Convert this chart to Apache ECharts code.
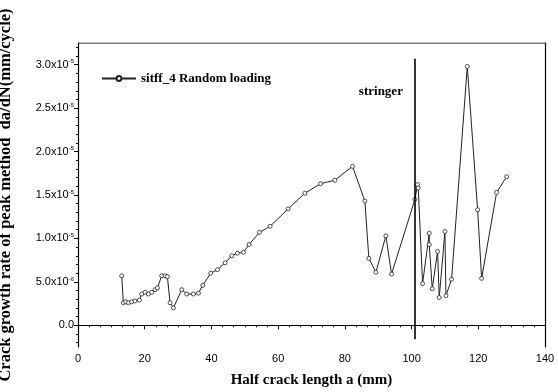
<!DOCTYPE html>
<html>
<head>
<meta charset="utf-8">
<script src="https://cdn.jsdelivr.net/npm/echarts@6/dist/echarts.min.js"></script>
<style>
  html, body { margin: 0; padding: 0; background: #fff; }
  #chart { width: 558px; height: 392px; }
</style>
</head>
<body>
<div id="chart"></div>
<script>
  // half crack length a (mm)
  const crackLength = [13.1, 13.6, 14.3, 15.1, 16.1, 17.1, 18.4, 19.1, 20.1, 21.1, 22.1, 23.1, 23.8,
    25.1, 26.1, 26.8, 27.6, 28.6, 31.1, 32.6, 34.6, 36.1, 37.4, 39.8, 41.8, 44.1, 46.1, 47.8, 49.6,
    51.3, 54.4, 57.6, 63.0, 68.0, 72.7, 77.0, 82.3, 86.0, 87.2, 89.3, 92.3, 94.0, 101.0, 101.8, 102.0,
    103.3, 105.3, 105.3, 106.2, 107.8, 108.3, 110.0, 110.3, 112.0, 116.7, 119.8, 121.0, 125.5, 128.5]
  // da/dN in units of 1e-5 mm/cycle
  const growthRate = [0.57, 0.26, 0.27, 0.26, 0.27, 0.28, 0.29, 0.36, 0.38, 0.36, 0.38, 0.41, 0.43,
    0.57, 0.57, 0.56, 0.26, 0.20, 0.41, 0.36, 0.36, 0.37, 0.46, 0.60, 0.64, 0.72, 0.80, 0.83, 0.84,
    0.93, 1.07, 1.14, 1.34, 1.52, 1.63, 1.67, 1.83, 1.43, 0.77, 0.61, 1.03, 0.59, 1.45, 1.62, 1.58,
    0.48, 1.06, 0.93, 0.42, 0.85, 0.32, 1.08, 0.34, 0.53, 2.98, 1.33, 0.54, 1.53, 1.71]
  const yTicks = [0, 0.5, 1.0, 1.5, 2.0, 2.5, 3.0]
  const yMinorTicks = [-0.2, -0.1, 0.1, 0.2, 0.3, 0.4, 0.6, 0.7, 0.8, 0.9, 1.1, 1.2, 1.3, 1.4,
    1.6, 1.7, 1.8, 1.9, 2.1, 2.2, 2.3, 2.4, 2.6, 2.7, 2.8, 2.9, 3.1, 3.2]
  const stringerX = 101
  const seriesName = 'sitff_4 Random loading'

  const serif = 'Liberation Serif'
  const sans = 'Liberation Sans'

  const chart = echarts.init(document.getElementById('chart'))

  function yLabel(v) {
    if (Math.abs(v) < 1e-9) return '0.0'
    if (v < 1) return '{m|' + (v * 10).toFixed(1) + 'x10}{s|-6}'
    return '{m|' + v.toFixed(1) + 'x10}{s|-5}'
  }

  chart.setOption({
    animation: false,
    backgroundColor: '#fff',
    grid: {left: 78, right: 13, top: 43, bottom: 45, outerBoundsMode: 'none'},
    legend: {
      left: 96,
      top: 67,
      itemWidth: 34,
      itemHeight: 6,
      itemGap: 4,
      textStyle: {fontFamily: serif, fontWeight: 'bold', fontSize: 13, color: '#000'},
      data: [seriesName]
    },
    xAxis: {
      type: 'value',
      min: 0,
      max: 140,
      interval: 20,
      name: 'Half crack length a (mm)',
      nameLocation: 'middle',
      nameGap: 26,
      nameTextStyle: {fontFamily: serif, fontWeight: 'bold', fontSize: 15, color: '#000'},
      axisLine: {lineStyle: {color: '#000', width: 1.2}},
      axisTick: {length: 4, lineStyle: {color: '#000'}},
      minorTick: {show: true, splitNumber: 6, length: 2, lineStyle: {color: '#000'}},
      axisLabel: {fontFamily: sans, fontSize: 11, color: '#000', margin: 6},
      splitLine: {show: false}
    },
    yAxis: [{
      type: 'value',
      min: -0.25,
      max: 3.25,
      name: 'Crack growth rate of peak method  da/dN(mm/cycle)',
      nameLocation: 'middle',
      nameGap: 64,
      nameTextStyle: {fontFamily: serif, fontWeight: 'bold', fontSize: 16.5, color: '#000'},
      axisLine: {show: true, lineStyle: {color: '#000', width: 1.2}},
      axisTick: {show: true, length: 4, customValues: yTicks, lineStyle: {color: '#000'}},
      axisLabel: {
        customValues: yTicks,
        formatter: yLabel,
        color: '#000',
        margin: 4,
        fontFamily: sans,
        fontSize: 11,
        rich: {
          m: {fontFamily: sans, fontSize: 11, color: '#000'},
          s: {fontFamily: sans, fontSize: 6, color: '#000', verticalAlign: 'top', padding: [0, 0, 6, 0]}
        }
      },
      splitLine: {show: false}
    }, {
      type: 'value',
      min: -0.25,
      max: 3.25,
      position: 'left',
      axisLine: {show: false},
      axisTick: {show: true, length: 2, customValues: yMinorTicks, lineStyle: {color: '#000'}},
      axisLabel: {show: false},
      splitLine: {show: false}
    }, {
      // right frame
      type: 'value',
      min: -0.25,
      max: 3.25,
      position: 'right',
      axisLine: {show: true, lineStyle: {color: '#000', width: 1.2}},
      axisTick: {show: false},
      axisLabel: {show: false},
      splitLine: {show: false}
    }],
    series: [{
      name: seriesName,
      type: 'line',
      data: crackLength.map((x, i) => [x, growthRate[i]]),
      symbol: 'circle',
      symbolSize: 4,
      showAllSymbol: true,
      lineStyle: {color: '#222', width: 1},
      itemStyle: {color: '#fff', borderColor: '#222', borderWidth: 0.8},
      markLine: {
        silent: true,
        symbol: 'none',
        label: {show: false},
        lineStyle: {color: '#000', width: 1.6, type: 'solid'},
        data: [[{coord: [stringerX, -0.16]}, {coord: [stringerX, 3.07]}]]
      },
      markPoint: {
        symbol: 'circle',
        symbolSize: 0,
        label: {
          show: true,
          formatter: 'stringer',
          fontFamily: serif,
          fontWeight: 'bold',
          fontSize: 13,
          color: '#000'
        },
        data: [{coord: [90.8, 2.69]}]
      }
    }, {
      // top frame line along max y
      type: 'line',
      data: [[0, 3.25], [140, 3.25]],
      symbol: 'none',
      silent: true,
      lineStyle: {color: '#000', width: 1.2},
      tooltip: {show: false}
    }]
  })
</script>
</body>
</html>
